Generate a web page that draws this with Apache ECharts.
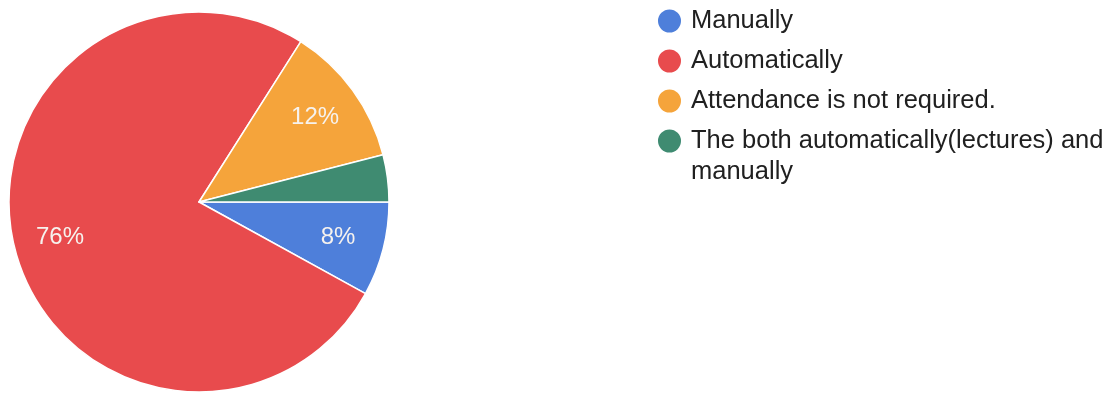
<!DOCTYPE html>
<html>
<head>
<meta charset="utf-8">
<script src="https://cdn.jsdelivr.net/npm/echarts@6/dist/echarts.min.js"></script>
<style>
  html, body { margin: 0; padding: 0; background: #ffffff; }
  #chart { width: 1117px; height: 395px; }
</style>
</head>
<body>
<div id="chart"></div>
<script>
// Answers and their share of responses (percent)
const categories = [
  'Manually',
  'Automatically',
  'Attendance is not required.',
  'The both automatically(lectures) and\nmanually'
];
const shares = [8, 76, 12, 4];
const colors = ['#4e7fda', '#e84b4d', '#f5a43b', '#3f8b71'];

const FONT = '"Liberation Sans", Arial, sans-serif';

const sliceData = categories.map((name, i) => ({
  name: name,
  value: shares[i],
  itemStyle: { color: colors[i] }
}));

// Transparent ring that carries the percentage labels further out than the pie's own inside labels
const labelData = categories.map((name, i) => ({
  name: name,
  value: shares[i],
  label: { show: shares[i] >= 5 }
}));

// Wrapped legend names: first line sits level with the icon, the rest hangs below it
function legendText(name) {
  const lines = name.split('\n');
  if (lines.length === 1) return name;
  return '{first|' + lines[0] + '}' + lines.slice(1).map(l => '\n{rest|' + l + '}').join('');
}

const chart = echarts.init(document.getElementById('chart'), null, { renderer: 'canvas' });
chart.setOption({
  animation: false,
  backgroundColor: '#ffffff',
  legend: {
    orient: 'vertical',
    left: 651,
    top: 1,
    itemWidth: 33,
    itemHeight: 25,
    itemGap: 10,
    icon: 'circle',
    selectedMode: false,
    data: categories,
    formatter: legendText,
    textStyle: {
      fontFamily: FONT,
      fontSize: 25.5,
      lineHeight: 30,
      color: '#202020',
      rich: {
        first: { fontFamily: FONT, fontSize: 25.5, lineHeight: 30, color: '#202020' },
        rest: {
          fontFamily: FONT, fontSize: 25.5, lineHeight: 0, height: 31,
          verticalAlign: 'top', color: '#202020'
        }
      }
    }
  },
  series: [
    {
      type: 'pie',
      center: [199, 202],
      radius: [0, 190],
      startAngle: 0,
      clockwise: true,
      silent: true,
      label: { show: false },
      labelLine: { show: false },
      emphasis: { disabled: true },
      itemStyle: { borderColor: '#ffffff', borderWidth: 1.5 },
      data: sliceData
    },
    {
      type: 'pie',
      center: [199, 202],
      radius: [91, 190],
      startAngle: 0,
      clockwise: true,
      silent: true,
      emphasis: { disabled: true },
      itemStyle: { color: 'rgba(0,0,0,0)', borderWidth: 0 },
      labelLine: { show: false },
      label: {
        position: 'inside',
        formatter: '{d}%',
        color: '#f6f2ee',
        fontFamily: FONT,
        fontSize: 24
      },
      data: labelData
    }
  ]
});
</script>
</body>
</html>
